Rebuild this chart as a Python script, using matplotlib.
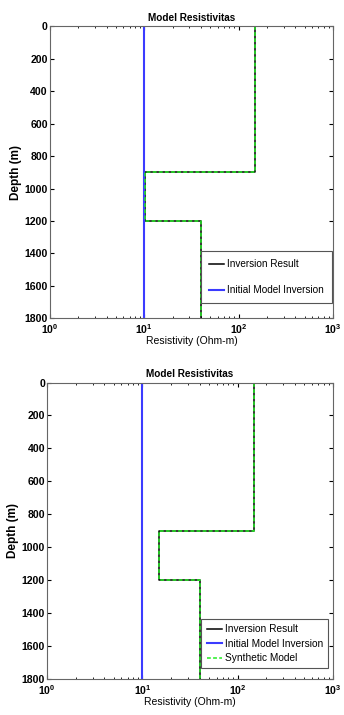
import matplotlib
matplotlib.use("Agg")
import matplotlib.pyplot as plt
import numpy as np
from matplotlib.ticker import LogLocator, NullFormatter

plt.rcParams['font.family'] = ['Liberation Sans', 'DejaVu Sans']

# layer boundaries (m) and resistivities (Ohm-m)
bounds = [0, 900, 1200, 1800]
res_top_inv = [150, 10.3, 40]
res_top_syn = [150, 10.3, 40]
res_bot_inv = [150, 15, 40]
res_bot_syn = [150, 15, 40]
res_initial = 10
depth_ticks = [0, 200, 400, 600, 800, 1000, 1200, 1400, 1600, 1800]


def profile(res):
    d, r = [], []
    for i, v in enumerate(res):
        d += [bounds[i], bounds[i + 1]]
        r += [v, v]
    return np.array(r), np.array(d)


def panel(ax, inv, syn, show_syn, xpad):
    x, y = profile(inv)
    ax.plot(x, y, color='black', lw=1.1, label='Inversion Result')
    ax.plot([res_initial, res_initial], [bounds[0], bounds[-1]], color='#3b3bff', lw=1.5,
            label='Initial Model Inversion')
    xs, ys = profile(syn)
    ax.plot(xs, ys, color='#22ee22', lw=1.1, ls=(0, (2.5, 1.5)),
            label='Synthetic Model' if show_syn else '_nolegend_')
    ax.set_xscale('log')
    ax.set_xlim(1, 1000)
    ax.set_ylim(1800, 0)
    ax.set_yticks(depth_ticks)
    ax.xaxis.set_major_locator(LogLocator(base=10, numticks=10))
    ax.xaxis.set_minor_locator(LogLocator(base=10, subs=np.arange(2, 10), numticks=10))
    ax.xaxis.set_minor_formatter(NullFormatter())
    ax.tick_params(which='both', direction='in', top=True, right=True, labelsize=7.6)
    ax.tick_params(axis='x', pad=xpad)
    ax.tick_params(axis='y', pad=1.5)
    ax.tick_params(which='major', length=3)
    ax.tick_params(which='minor', length=1.5)
    for lab in ax.get_yticklabels() + ax.get_xticklabels():
        lab.set_fontweight('bold')
    for s in ax.spines.values():
        s.set_color('#666666')
        s.set_linewidth(0.8)
    ax.set_title('Model Resistivitas', fontsize=7.2, fontweight='bold', pad=4)
    ax.set_xlabel('Resistivity (Ohm-m)', fontsize=7.5, labelpad=0)
    ax.set_ylabel('Depth (m)', fontsize=8.5, fontweight='bold', labelpad=2)
    if show_syn:
        leg = ax.legend(loc='lower right', fontsize=7.3, fancybox=False, framealpha=1,
                        edgecolor='#555555', borderpad=0.5, handlelength=1.5, handletextpad=0.3,
                        labelspacing=0.45, borderaxespad=0, bbox_to_anchor=(0.983, 0.037))
    else:
        leg = ax.legend(loc='lower right', fontsize=7.2, fancybox=False, framealpha=1,
                        edgecolor='#555555', borderpad=0.8, handlelength=1.5, handletextpad=0.3,
                        labelspacing=1.6, borderaxespad=0, bbox_to_anchor=(0.997, 0.051))
    leg.get_frame().set_linewidth(0.8)


fig = plt.figure(figsize=(3.44, 7.15), dpi=100)
ax1 = fig.add_axes([0.145, 0.555, 0.823, 0.408])
ax2 = fig.add_axes([0.137, 0.050, 0.831, 0.415])
panel(ax1, res_top_inv, res_top_syn, False, 3)
panel(ax2, res_bot_inv, res_bot_syn, True, 3)

fig.savefig('out.png', dpi=100)
